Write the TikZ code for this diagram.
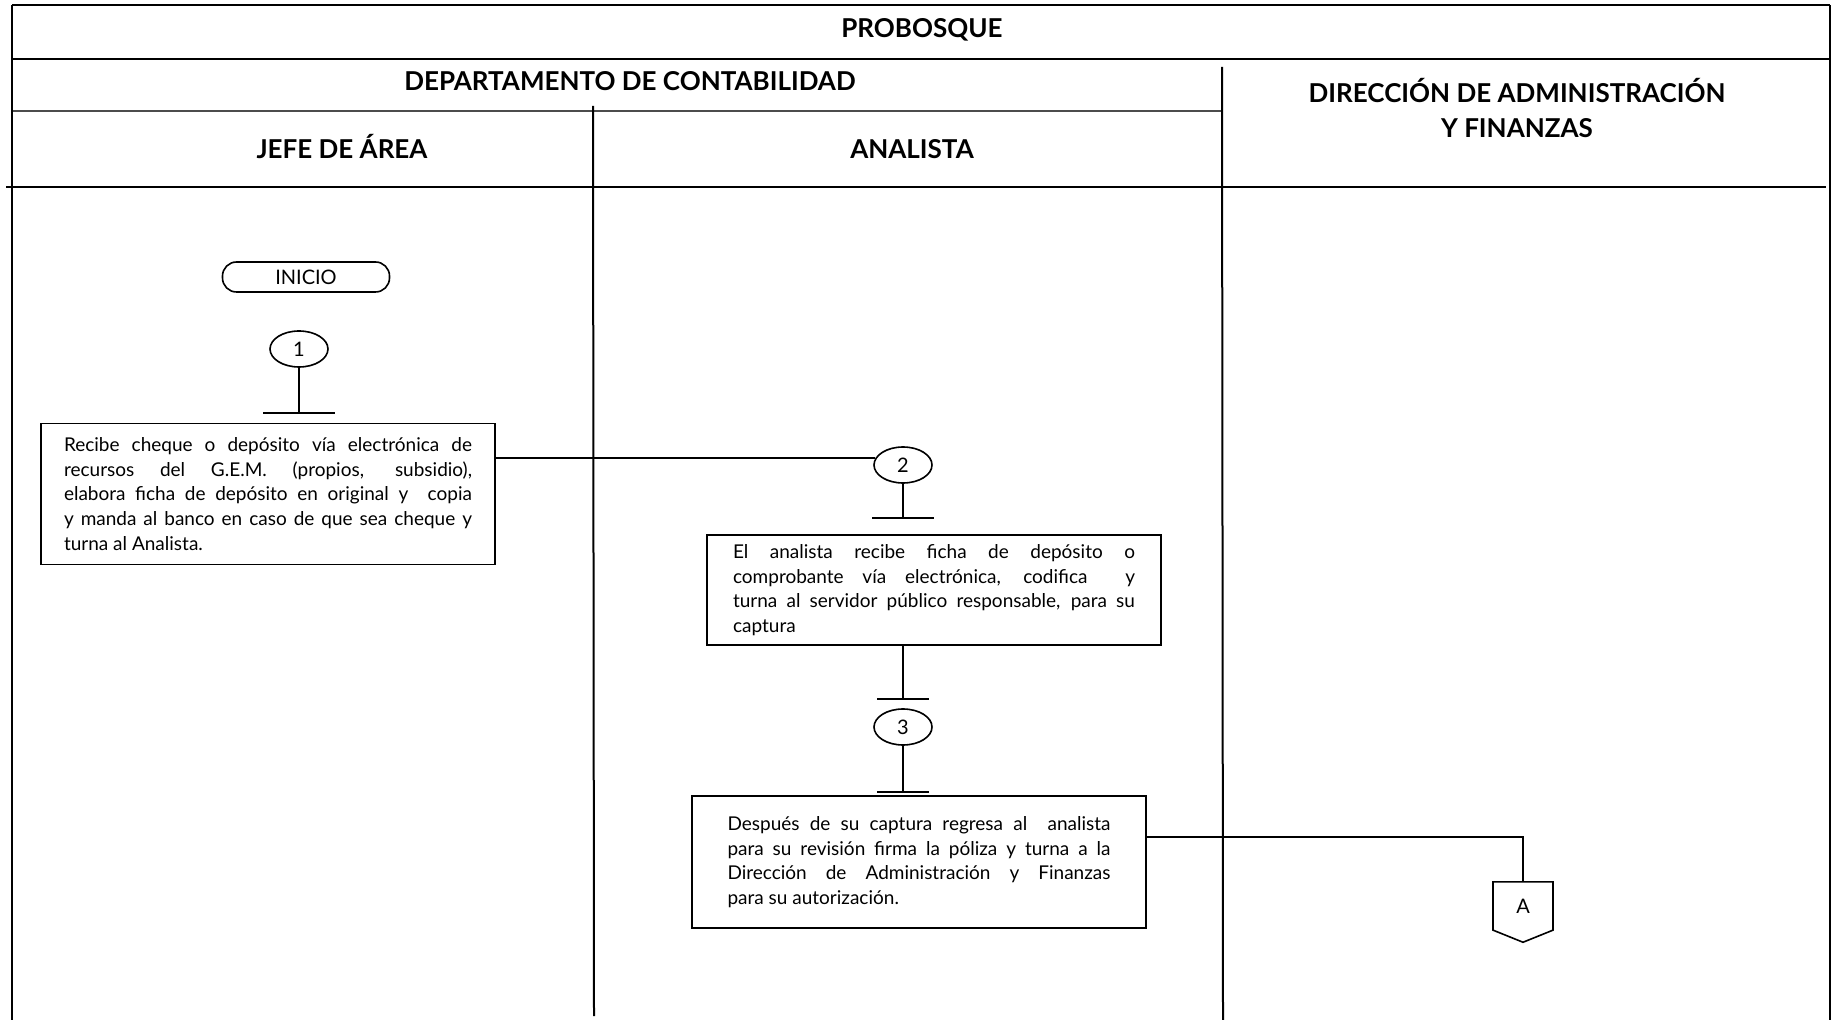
\documentclass[tikz,border=0pt]{standalone}
\usepackage{fontspec}
\setmainfont{Lato}
\usetikzlibrary{shapes.geometric,shapes.symbols}

\begin{document}
\begin{tikzpicture}[x=0.5pt,y=-0.5pt,
    marco/.style={line width=1.4pt},
    carril/.style={line width=1pt},
    linea/.style={line width=0.8pt},
    titulo/.style={font=\bfseries\fontsize{13}{15}\selectfont, text height=9.3pt, text depth=0pt},
    caja/.style={draw, line width=0.9pt, minimum width=227pt, inner sep=0pt,
      align=justify, font=\fontsize{9.5}{12.3}\selectfont},
    paso/.style={draw, ellipse, line width=0.8pt, minimum width=29pt,
      minimum height=18pt, inner sep=0pt, font=\fontsize{10}{12}\selectfont}]
    \useasboundingbox (0,0) rectangle (1835,1020);

    \draw[marco] (12,5) -- (1830,5);
    \draw[marco] (12,59) -- (1830,59);
    \draw[line width=0.7pt, black!70] (12,111) -- (1222,111);
    \draw[marco] (6,187) -- (1826,187);
    \draw[carril] (12,5) -- (12,1020);
    \draw[carril] (1830,5) -- (1830,1020);
    \draw[carril] (593,106) -- (594,1016);
    \draw[carril] (1222,67) -- (1223,1020);

    \node[titulo] (probosque) at (922,28) {PROBOSQUE};
    \node[titulo] (depto) at (630,81) {DEPARTAMENTO DE CONTABILIDAD};
    \node[titulo] (jefe) at (342,149) {JEFE DE ÁREA};
    \node[titulo] (analista) at (912,149) {ANALISTA};
    \node[align=center, font=\bfseries\fontsize{13}{17.5}\selectfont]
      (direccion) at (1517,108) {DIRECCIÓN DE ADMINISTRACIÓN\\Y FINANZAS};

    \node[draw, rounded corners=7pt, line width=0.8pt, minimum width=83.5pt,
      minimum height=15pt, inner sep=0pt, font=\fontsize{10}{12}\selectfont]
      (inicio) at (306,277) {INICIO};

    \node[paso] (c1) at (299,349) {1};
    \coordinate (t1) at (299,413);
    \draw[linea] (c1.south) -- (t1) ++(-36,0) -- ++(72,0);
    \node[caja, minimum height=70.5pt, text width=204pt] (caja1) at (268,494)
      {Recibe cheque o depósito vía electrónica de\linebreak
       recursos del G.E.M. (propios, subsidio),\linebreak
       elabora ficha de depósito en original y\ \ copia\linebreak
       y manda al banco en caso de que sea cheque y\linebreak
       turna al Analista.};

    \node[paso] (c2) at (903,465) {2};
    \draw[linea] (caja1.east |- c2.166) -- (c2.166);
    \coordinate (t2) at (903,518);
    \draw[linea] (c2.south) -- (t2) ++(-31,0) -- ++(62,0);
    \node[caja, minimum height=55pt, text width=201pt] (caja2) at (934,590)
      {El analista recibe ficha de depósito o\linebreak
       comprobante vía electrónica, codifica\ \ y\linebreak
       turna al servidor público responsable, para su\linebreak
       captura};

    \node[paso] (c3) at (903,727) {3};
    \coordinate (t3) at (903,699);
    \draw[linea] (c3 |- caja2.south) -- (t3) ++(-26,0) -- ++(52,0);
    \coordinate (t4) at (903,792);
    \draw[linea] (c3.south) -- (t4) ++(-26,0) -- ++(52,0);
    \node[caja, minimum height=66pt, text width=191.5pt] (caja3) at (919,862)
      {Después de su captura regresa al\ \ analista\linebreak
       para su revisión firma la póliza y turna a la\linebreak
       Dirección de Administración y Finanzas\linebreak
       para su autorización.};

    \node[draw, signal, signal to=south, signal pointer angle=136, line width=0.8pt,
      minimum width=30pt, minimum height=25.5pt, inner sep=0pt,
      font=\fontsize{10}{12}\selectfont] (conA) at (1523,906) {A};
    \coordinate (codo) at (1523,837);
    \draw[linea] (caja3.east |- codo) -- (codo) -- (conA.north);
\end{tikzpicture}
\end{document}
